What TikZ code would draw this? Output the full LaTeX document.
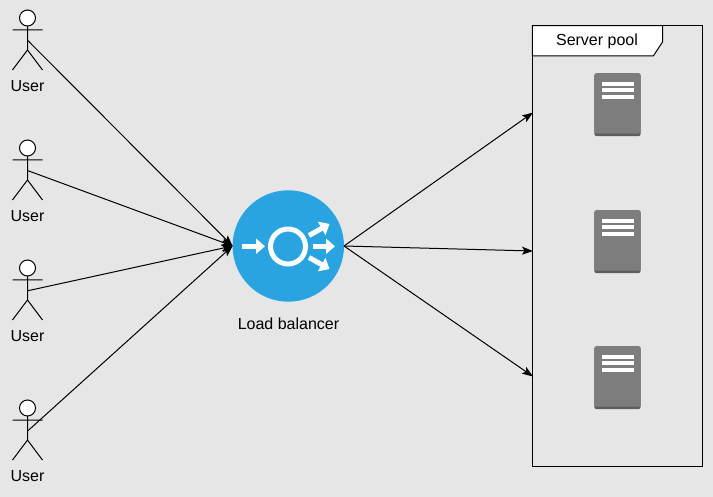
\documentclass[tikz,border=0pt]{standalone}
\usepackage{fontspec}
\setmainfont{Liberation Sans}
\usetikzlibrary{arrows.meta}
\definecolor{bgColor}{HTML}{E6E6E6}
\definecolor{lbColor}{HTML}{2AA4E0}
\definecolor{srvColor}{HTML}{7D7D7D}
\definecolor{srvEdge}{HTML}{5E5E5E}
\tikzset{
	conn/.style={draw=black,line width=1pt,-{Stealth[length=11pt,width=8pt,inset=2.5pt]}},
	lab/.style={font=\fontsize{16}{18}\selectfont,inner sep=0,outer sep=0},
	wht/.style={draw=white,line width=5pt},
	whttip/.style={wht,-{Triangle[length=9pt,width=15pt]}},
	pics/actor/.style={code={
		\draw[line width=1pt] (0,26) -- (0,50) (-15,30) -- (15,30) (-15,70) -- (0,50) -- (15,70);
		\draw[line width=1pt,fill=white] (0,18) circle (8);
		\coordinate (-hip) at (0.5,40.7);
	}},
	pics/server/.style={code={
		\fill[srvEdge,rounded corners=2.5pt] (-23.2,-31.5) rectangle (23.2,31.5);
		\fill[srvColor,rounded corners=2.5pt] (-23.2,-31.5) rectangle (23.2,29);
		\foreach \ly in {-20.7,-14.4,-7.9}
			\fill[white] (-16,\ly-2) rectangle (16,\ly+2);
	}}
}
\begin{document}
\begin{tikzpicture}[x=1pt,y=-1pt]
	\fill[bgColor,use as bounding box] (0,0) rectangle (713,497);
	% users
	\pic (u1) at (27.5,0) {actor};
	\pic (u2) at (27.5,130) {actor};
	\pic (u3) at (27.5,250) {actor};
	\pic (u4) at (27.5,390) {actor};
	\node[lab] (u1lab) at (27.5,86.5) {User};
	\node[lab] (u2lab) at (27.5,216.5) {User};
	\node[lab] (u3lab) at (27.5,336.5) {User};
	\node[lab] (u4lab) at (27.5,476.5) {User};
	% balancer
	\node[circle,fill=lbColor,minimum size=111.4pt,inner sep=0,outer sep=0] (lb) at (288.3,246) {};
	\node[lab] (lblab) at (288.5,323.5) {Load balancer};
	\node[circle,draw=white,line width=5pt,minimum size=35pt,inner sep=0] (lbring) at (288,246.5) {};
	\draw[whttip] (241.5,246.3) -- (265,246.3);
	\draw[whttip] (313,246.3) -- (335,246.3);
	\draw[whttip] (309,235.5) -- (329.5,224);
	\draw[whttip] (309,257.5) -- (329.5,269);
	% pool
	\node[draw=black,line width=1pt,fill=none,minimum width=170.4pt,minimum height=440.3pt,inner sep=0,outer sep=0] (pool) at (617.5,245.9) {};
	\draw[line width=1pt,fill=white] (pool.north west) -- (662.7,25.7) -- (662.7,41.7) -- (653.3,56) -- (532.3,56) -- cycle;
	\node[lab] (poollab) at (597,41.5) {Server pool};
	\pic (s1) at (617.5,104.7) {server};
	\pic (s2) at (617.5,241.7) {server};
	\pic (s3) at (617.5,377.7) {server};
	\coordinate (p1) at (533,112.5);
	\coordinate (p2) at (533,251);
	\coordinate (p3) at (533,376.5);
	% links
	\foreach \i in {1,...,4}
		\draw[conn] (u\i-hip) -- (lb.west);
	\foreach \i in {1,...,3}
		\draw[conn] (lb.east) -- (p\i);
\end{tikzpicture}
\end{document}
